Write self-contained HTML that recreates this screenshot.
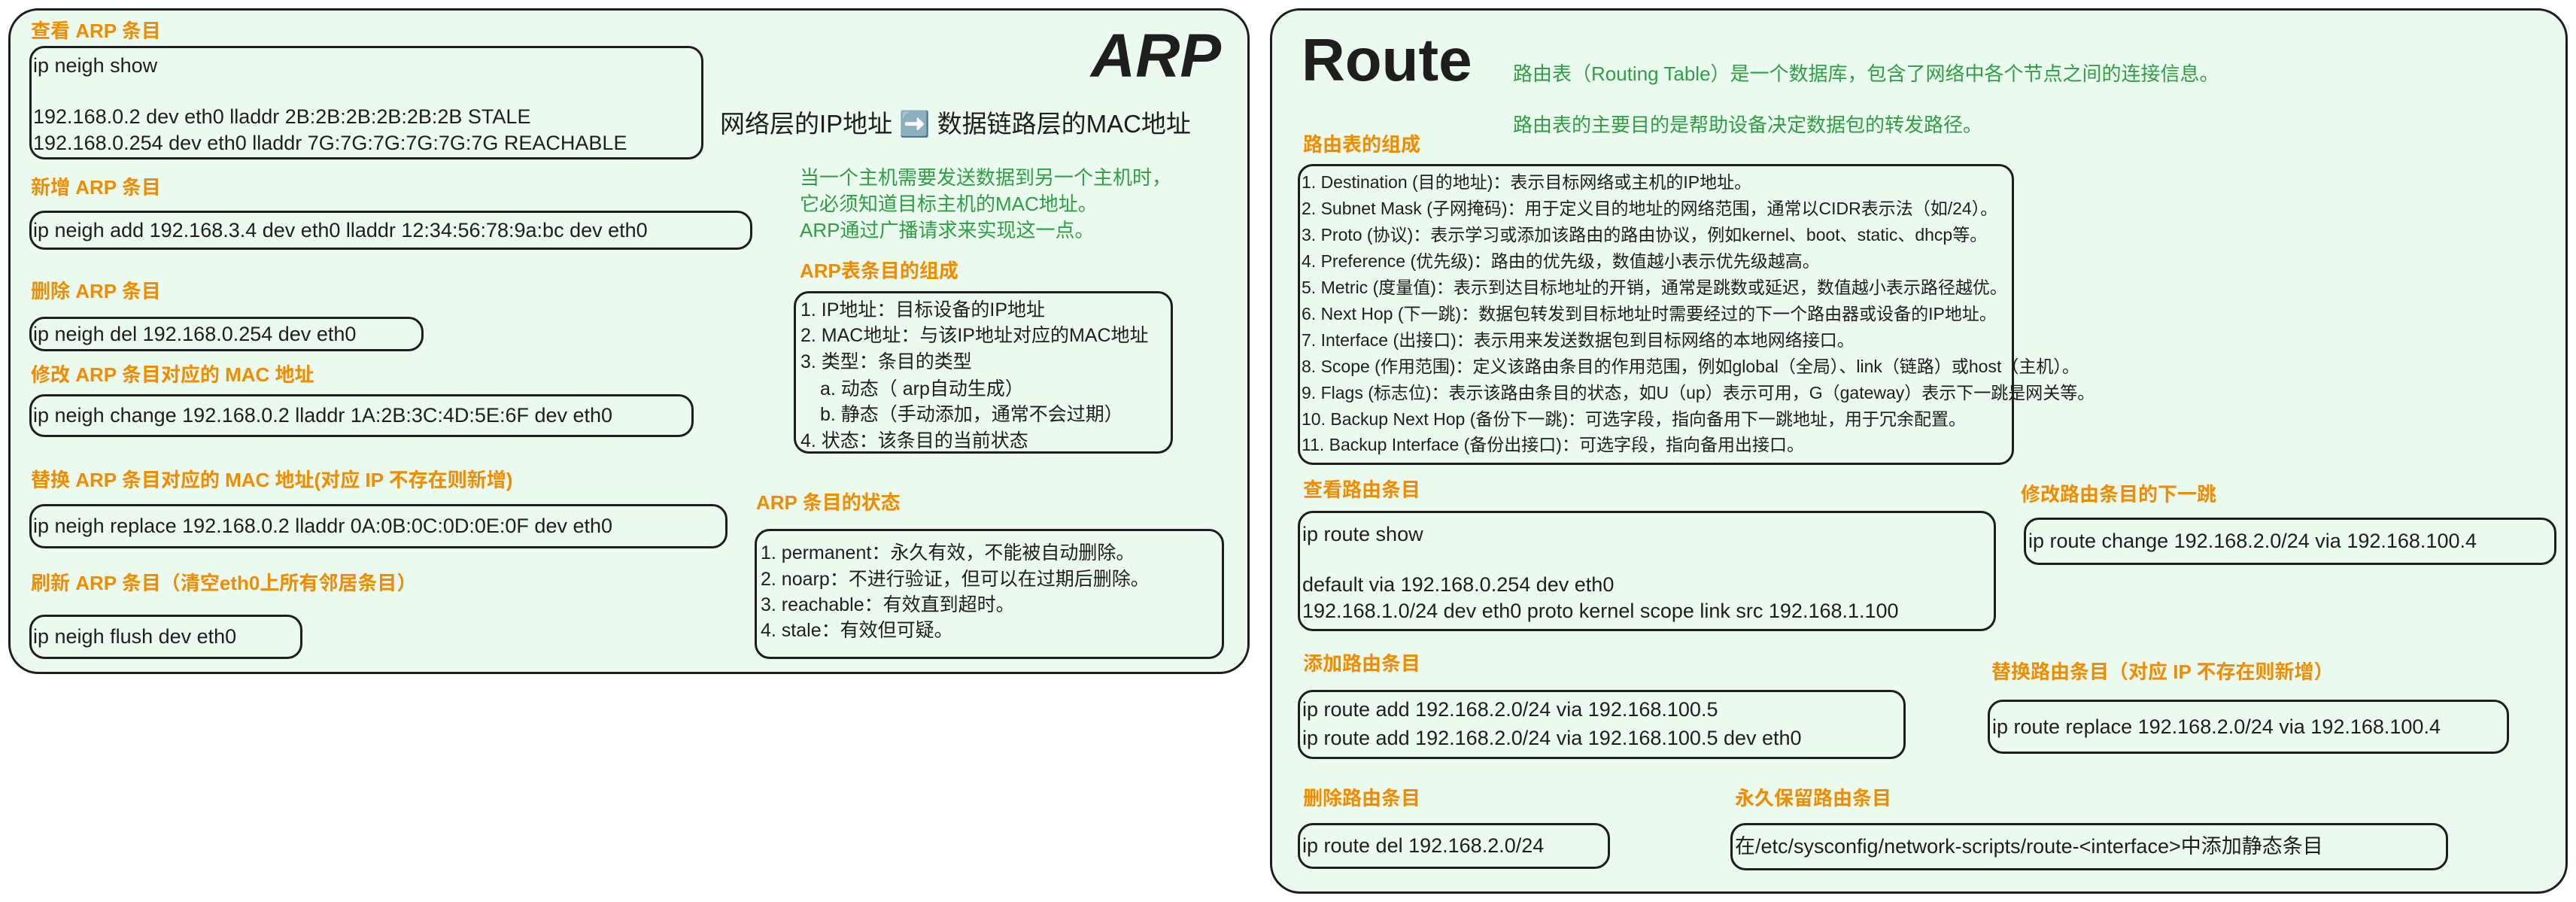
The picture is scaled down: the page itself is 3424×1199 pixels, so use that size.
<!DOCTYPE html>
<html><head><meta charset="utf-8">
<style>
html,body{margin:0;padding:0;}
body{width:3424px;height:1199px;position:relative;background:#fff;overflow:hidden;font-family:"Liberation Sans","Noto Sans CJK SC",sans-serif;color:#1e1e1e;}
.p{position:absolute;background:#ebfaee;border:3px solid #1e1e1e;border-radius:40px;box-sizing:border-box;}
.b{position:absolute;border:3px solid #1e1e1e;border-radius:20px;box-sizing:border-box;}
.t{position:absolute;white-space:nowrap;line-height:1;}
.o{color:#f08c00;font-size:26px;font-weight:bold;}
.g{color:#2f9e44;font-size:26px;}
.c{font-size:27px;}
.l{font-size:23px;}
.a{font-size:25px;}
</style></head><body>

<!-- ARP panel -->
<div class="p" style="left:11px;top:11px;width:1650px;height:885px;"></div>
<div class="t" style="left:1450px;top:34px;font-size:82px;font-weight:bold;font-style:italic;">ARP</div>
<div class="t" style="left:957px;top:148px;font-size:33px;">网络层的IP地址 ➡️ 数据链路层的MAC地址</div>

<div class="t o" style="left:41px;top:28px;">查看 ARP 条目</div>
<div class="b" style="left:39px;top:61px;width:896px;height:151px;"></div>
<div class="t c" style="left:44px;top:74px;">ip neigh show</div>
<div class="t c" style="left:44px;top:142px;">192.168.0.2 dev eth0 lladdr 2B:2B:2B:2B:2B:2B STALE</div>
<div class="t c" style="left:44px;top:177px;">192.168.0.254 dev eth0 lladdr 7G:7G:7G:7G:7G:7G REACHABLE</div>

<div class="t o" style="left:41px;top:236px;">新增 ARP 条目</div>
<div class="b" style="left:39px;top:280px;width:961px;height:52px;"></div>
<div class="t c" style="left:44px;top:293px;">ip neigh add 192.168.3.4 dev eth0 lladdr 12:34:56:78:9a:bc dev eth0</div>

<div class="t o" style="left:41px;top:374px;">删除 ARP 条目</div>
<div class="b" style="left:39px;top:421px;width:524px;height:46px;"></div>
<div class="t c" style="left:44px;top:431px;">ip neigh del 192.168.0.254 dev eth0</div>

<div class="t o" style="left:41px;top:485px;">修改 ARP 条目对应的 MAC 地址</div>
<div class="b" style="left:39px;top:524px;width:883px;height:57px;"></div>
<div class="t c" style="left:44px;top:539px;">ip neigh change 192.168.0.2 lladdr 1A:2B:3C:4D:5E:6F dev eth0</div>

<div class="t o" style="left:41px;top:625px;">替换 ARP 条目对应的 MAC 地址(对应 IP 不存在则新增)</div>
<div class="b" style="left:39px;top:670px;width:928px;height:59px;"></div>
<div class="t c" style="left:44px;top:686px;">ip neigh replace 192.168.0.2 lladdr 0A:0B:0C:0D:0E:0F dev eth0</div>

<div class="t o" style="left:41px;top:762px;">刷新 ARP 条目（清空eth0上所有邻居条目）</div>
<div class="b" style="left:39px;top:817px;width:363px;height:59px;"></div>
<div class="t c" style="left:44px;top:833px;">ip neigh flush dev eth0</div>

<div class="t g" style="left:1063px;top:223px;">当一个主机需要发送数据到另一个主机时，</div>
<div class="t g" style="left:1063px;top:258px;">它必须知道目标主机的MAC地址。</div>
<div class="t g" style="left:1063px;top:293px;">ARP通过广播请求来实现这一点。</div>

<div class="t o" style="left:1063px;top:347px;">ARP表条目的组成</div>
<div class="b" style="left:1055px;top:387px;width:504px;height:216px;"></div>
<div class="t a" style="left:1064px;top:400px;">1. IP地址：目标设备的IP地址</div>
<div class="t a" style="left:1064px;top:434px;">2. MAC地址：与该IP地址对应的MAC地址</div>
<div class="t a" style="left:1064px;top:469px;">3. 类型：条目的类型</div>
<div class="t a" style="left:1090px;top:505px;">a. 动态（ arp自动生成）</div>
<div class="t a" style="left:1090px;top:539px;">b. 静态（手动添加，通常不会过期）</div>
<div class="t a" style="left:1064px;top:574px;">4. 状态：该条目的当前状态</div>

<div class="t o" style="left:1005px;top:655px;">ARP 条目的状态</div>
<div class="b" style="left:1003px;top:703px;width:624px;height:173px;"></div>
<div class="t a" style="left:1011px;top:723px;">1. permanent：永久有效，不能被自动删除。</div>
<div class="t a" style="left:1011px;top:758px;">2. noarp：不进行验证，但可以在过期后删除。</div>
<div class="t a" style="left:1011px;top:792px;">3. reachable：有效直到超时。</div>
<div class="t a" style="left:1011px;top:826px;">4. stale：有效但可疑。</div>

<!-- Route panel -->
<div class="p" style="left:1688px;top:11px;width:1725px;height:1177px;"></div>
<div class="t" style="left:1730px;top:40px;font-size:80px;font-weight:bold;">Route</div>
<div class="t g" style="left:2011px;top:85px;">路由表（Routing Table）是一个数据库，包含了网络中各个节点之间的连接信息。</div>
<div class="t g" style="left:2011px;top:153px;">路由表的主要目的是帮助设备决定数据包的转发路径。</div>

<div class="t o" style="left:1732px;top:179px;">路由表的组成</div>
<div class="b" style="left:1725px;top:218px;width:952px;height:400px;"></div>
<div class="t l" style="left:1730px;top:231px;">1. Destination (目的地址)：表示目标网络或主机的IP地址。</div>
<div class="t l" style="left:1730px;top:266px;">2. Subnet Mask (子网掩码)：用于定义目的地址的网络范围，通常以CIDR表示法（如/24）。</div>
<div class="t l" style="left:1730px;top:301px;">3. Proto (协议)：表示学习或添加该路由的路由协议，例如kernel、boot、static、dhcp等。</div>
<div class="t l" style="left:1730px;top:336px;">4. Preference (优先级)：路由的优先级，数值越小表示优先级越高。</div>
<div class="t l" style="left:1730px;top:371px;">5. Metric (度量值)：表示到达目标地址的开销，通常是跳数或延迟，数值越小表示路径越优。</div>
<div class="t l" style="left:1730px;top:406px;">6. Next Hop (下一跳)：数据包转发到目标地址时需要经过的下一个路由器或设备的IP地址。</div>
<div class="t l" style="left:1730px;top:441px;">7. Interface (出接口)：表示用来发送数据包到目标网络的本地网络接口。</div>
<div class="t l" style="left:1730px;top:476px;">8. Scope (作用范围)：定义该路由条目的作用范围，例如global（全局）、link（链路）或host（主机）。</div>
<div class="t l" style="left:1730px;top:511px;">9. Flags (标志位)：表示该路由条目的状态，如U（up）表示可用，G（gateway）表示下一跳是网关等。</div>
<div class="t l" style="left:1730px;top:546px;">10. Backup Next Hop (备份下一跳)：可选字段，指向备用下一跳地址，用于冗余配置。</div>
<div class="t l" style="left:1730px;top:580px;">11. Backup Interface (备份出接口)：可选字段，指向备用出接口。</div>

<div class="t o" style="left:1732px;top:638px;">查看路由条目</div>
<div class="b" style="left:1725px;top:679px;width:928px;height:160px;"></div>
<div class="t c" style="left:1731px;top:697px;">ip route show</div>
<div class="t c" style="left:1731px;top:764px;">default via 192.168.0.254 dev eth0</div>
<div class="t c" style="left:1731px;top:799px;">192.168.1.0/24 dev eth0 proto kernel scope link src 192.168.1.100</div>

<div class="t o" style="left:2686px;top:644px;">修改路由条目的下一跳</div>
<div class="b" style="left:2690px;top:688px;width:708px;height:63px;"></div>
<div class="t c" style="left:2696px;top:706px;">ip route change 192.168.2.0/24 via 192.168.100.4</div>

<div class="t o" style="left:1732px;top:869px;">添加路由条目</div>
<div class="b" style="left:1725px;top:917px;width:808px;height:92px;"></div>
<div class="t c" style="left:1731px;top:930px;">ip route add 192.168.2.0/24 via 192.168.100.5</div>
<div class="t c" style="left:1731px;top:968px;">ip route add 192.168.2.0/24 via 192.168.100.5 dev eth0</div>

<div class="t o" style="left:2647px;top:880px;">替换路由条目（对应 IP 不存在则新增）</div>
<div class="b" style="left:2642px;top:930px;width:693px;height:72px;"></div>
<div class="t c" style="left:2648px;top:953px;">ip route replace 192.168.2.0/24 via 192.168.100.4</div>

<div class="t o" style="left:1732px;top:1048px;">删除路由条目</div>
<div class="b" style="left:1725px;top:1094px;width:415px;height:61px;"></div>
<div class="t c" style="left:1731px;top:1111px;">ip route del 192.168.2.0/24</div>

<div class="t o" style="left:2306px;top:1048px;">永久保留路由条目</div>
<div class="b" style="left:2300px;top:1094px;width:954px;height:63px;"></div>
<div class="t c" style="left:2306px;top:1112px;">在/etc/sysconfig/network-scripts/route-&lt;interface&gt;中添加静态条目</div>

</body></html>
